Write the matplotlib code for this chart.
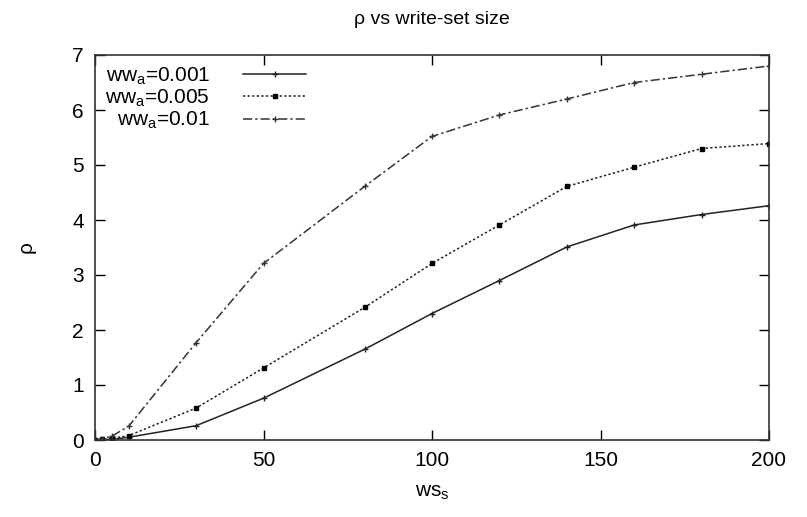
import matplotlib
matplotlib.use('Agg')
import matplotlib.pyplot as plt

plt.rcParams['font.family'] = ['Liberation Sans', 'DejaVu Sans']
plt.rcParams['mathtext.fontset'] = 'custom'
plt.rcParams['mathtext.rm'] = 'Liberation Sans'
plt.rcParams['mathtext.it'] = 'Liberation Sans'

# write-set sizes and rho for each ww_a
ws = [0, 2, 5, 10, 30, 50, 80, 100, 120, 140, 160, 180, 200]
rho_001 = [0, 0.005, 0.01, 0.05, 0.26, 0.76, 1.65, 2.30, 2.90, 3.51, 3.91, 4.10, 4.26]
rho_005 = [0, 0.01, 0.03, 0.08, 0.58, 1.31, 2.41, 3.21, 3.91, 4.61, 4.96, 5.30, 5.39]
rho_01 = [0, 0.02, 0.07, 0.25, 1.77, 3.21, 4.61, 5.52, 5.91, 6.20, 6.50, 6.65, 6.80]

labels = [r'ww$_{\rm a}$=0.001', r'ww$_{\rm a}$=0.005', r'ww$_{\rm a}$=0.01']

fig = plt.figure(figsize=(8.07, 5.17), dpi=100)
ax = fig.add_axes([95 / 807, 1 - 440 / 517, (769 - 95) / 807, (440 - 55) / 517])

ax.plot(ws, rho_001, color='#222222', lw=1.1, ls='-', marker='+', ms=4, mew=1,
        label=labels[0])
ax.plot(ws, rho_005, color='#222222', lw=1.1, ls=(0, (1.5, 1.5)), marker='s', ms=3.5,
        mfc='black', mec='black', label=labels[1])
ax.plot(ws, rho_01, color='#333333', lw=1.1, ls=(0, (6, 2, 1.5, 2)), marker='+', ms=4, mew=1,
        label=labels[2])

ax.set_xlim(0, 200)
ax.set_ylim(0, 7)
ax.set_xticks([0, 50, 100, 150, 200])
ax.set_yticks(range(0, 8))
ax.tick_params(direction='in', length=7, width=1, top=True, right=True,
               labelsize=15, pad=8)
for s in ax.spines.values():
    s.set_linewidth(1.2)
    s.set_color('#333333')

ax.set_title(r'ρ vs write-set size', fontsize=14, pad=22)
ax.set_xlabel(r'ws$_{\rm s}$', fontsize=15, labelpad=9)
ax.set_ylabel('ρ', fontsize=15, labelpad=26)

leg = ax.legend(loc='upper left', markerfirst=False, frameon=False, fontsize=15,
                handlelength=3.0, handletextpad=1.6, labelspacing=0.05,
                borderaxespad=0.2, borderpad=0.3)

fig.savefig('out.png', dpi=100)
